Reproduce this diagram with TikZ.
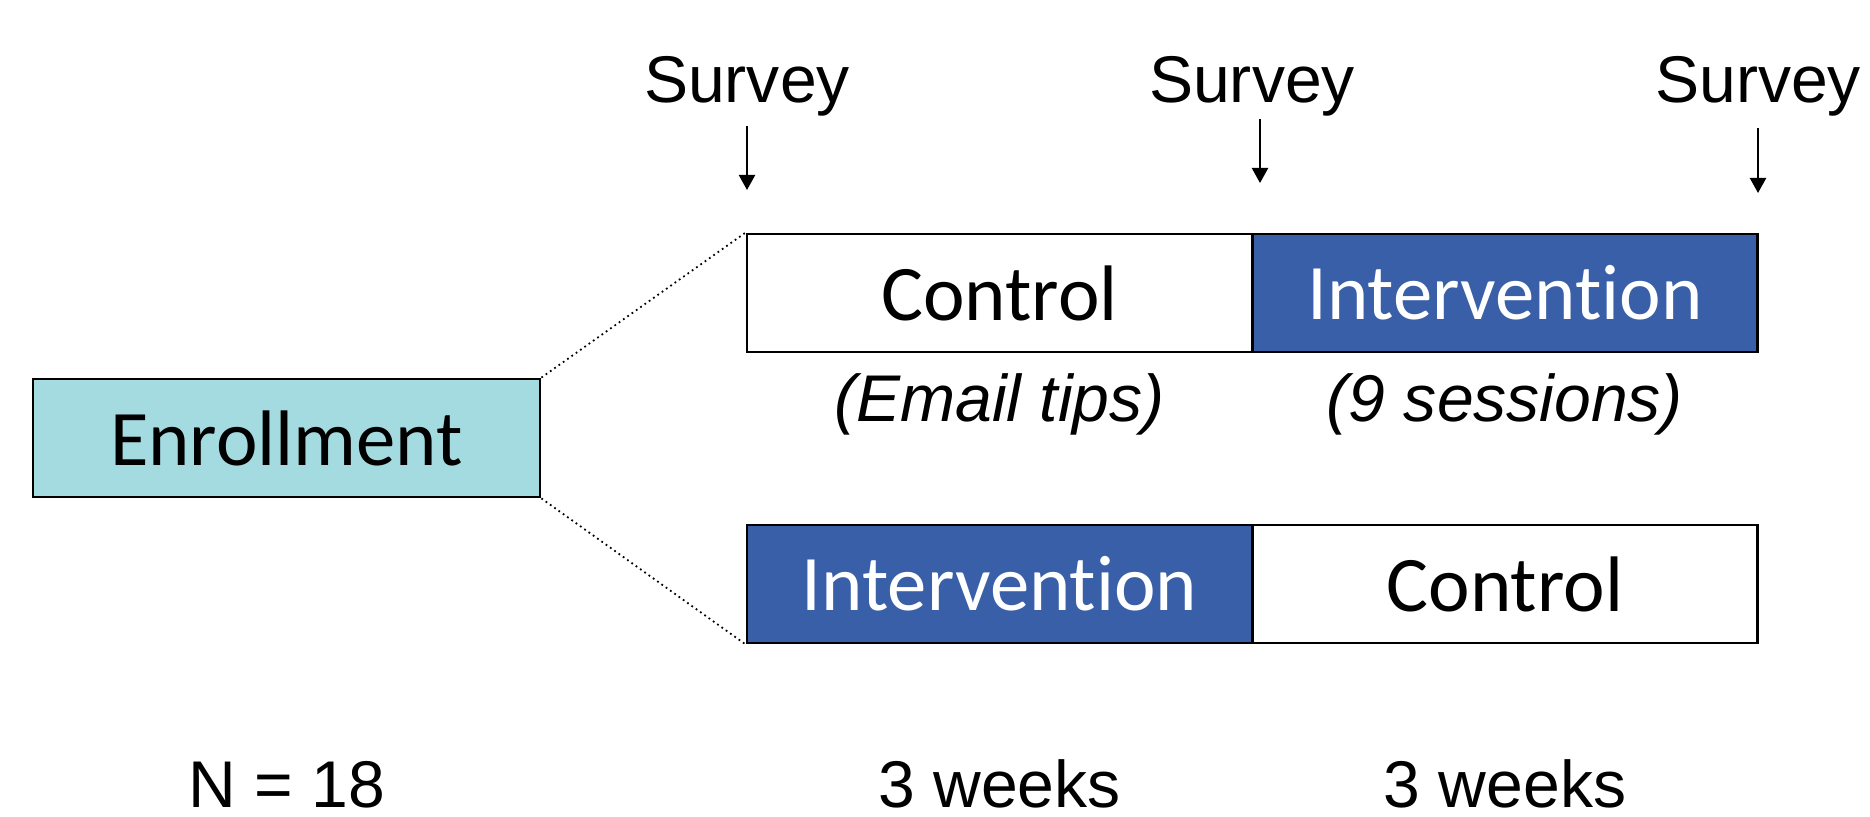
\documentclass[tikz,border=0pt]{standalone}
\usepackage{fontspec}
\setmainfont{Liberation Sans}
\newfontfamily\boxfont[RawFeature={-liga;-clig;-dlig;-calt}]{Carlito}
\usetikzlibrary{arrows.meta}

\definecolor{enrollcyan}{RGB}{164,219,224}
\definecolor{interblue}{RGB}{56,95,167}

\begin{document}
\begin{tikzpicture}[line width=0.8pt,
	phase/.style={draw=black, minimum width=5.05cm, minimum height=1.18cm, inner sep=0pt, font=\boxfont\fontsize{22.4}{26}\selectfont},
	ctrl/.style={phase, fill=white},
	interv/.style={phase, fill=interblue, text=white},
	label/.style={font=\fontsize{18.8}{22}\selectfont, inner sep=0pt, anchor=base},
	zoomline/.style={line width=0.5pt, densely dotted}]
		\useasboundingbox (0, 0) rectangle (18.70, 8.17);
	
		\node[phase, fill=enrollcyan, minimum width=5.07cm] (enr) at (2.865, 3.79) {Enrollment};
	
		\node[ctrl] (c1) at (9.995, 5.24) {Control};        % Верхняя строка
		\node[interv] (i1) at (15.05, 5.24) {Intervention};
		
		\node[interv] (i2) at (9.995, 2.33) {Intervention}; % Нижняя строка
		\node[ctrl] (c2) at (15.05, 2.33) {Control};
		
		\draw[zoomline] (enr.north east) -- (c1.north west);
		\draw[zoomline] (enr.south east) -- (i2.south west);
	
		\node[label] (sv1) at (7.47, 7.14) {Survey};
		\node[label] (sv2) at (12.52, 7.14) {Survey};
		\node[label] (sv3) at (17.58, 7.14) {Survey};
		
		\coordinate (a1) at (7.47, 6.91);  \coordinate (b1) at (7.47, 6.27);
		\coordinate (a2) at (12.60, 6.98); \coordinate (b2) at (12.60, 6.34);
		\coordinate (a3) at (17.58, 6.89); \coordinate (b3) at (17.58, 6.24);
		
		\foreach \k in {1,2,3}
			\draw[-{Triangle[length=4.3pt, width=4.6pt]}, line width=0.6pt] (a\k) -- (b\k);
	
		\node[label] (tips) at (9.995, 3.95) {\itshape (Email tips)};
		\node[label] (sess) at (15.05, 3.95) {\itshape (9 sessions)};
		
		\node[label] (num) at (2.87, 0.09) {N = 18};
		\node[label] (wk1) at (9.995, 0.09) {3 weeks};
		\node[label] (wk2) at (15.05, 0.09) {3 weeks};
\end{tikzpicture}
\end{document}
